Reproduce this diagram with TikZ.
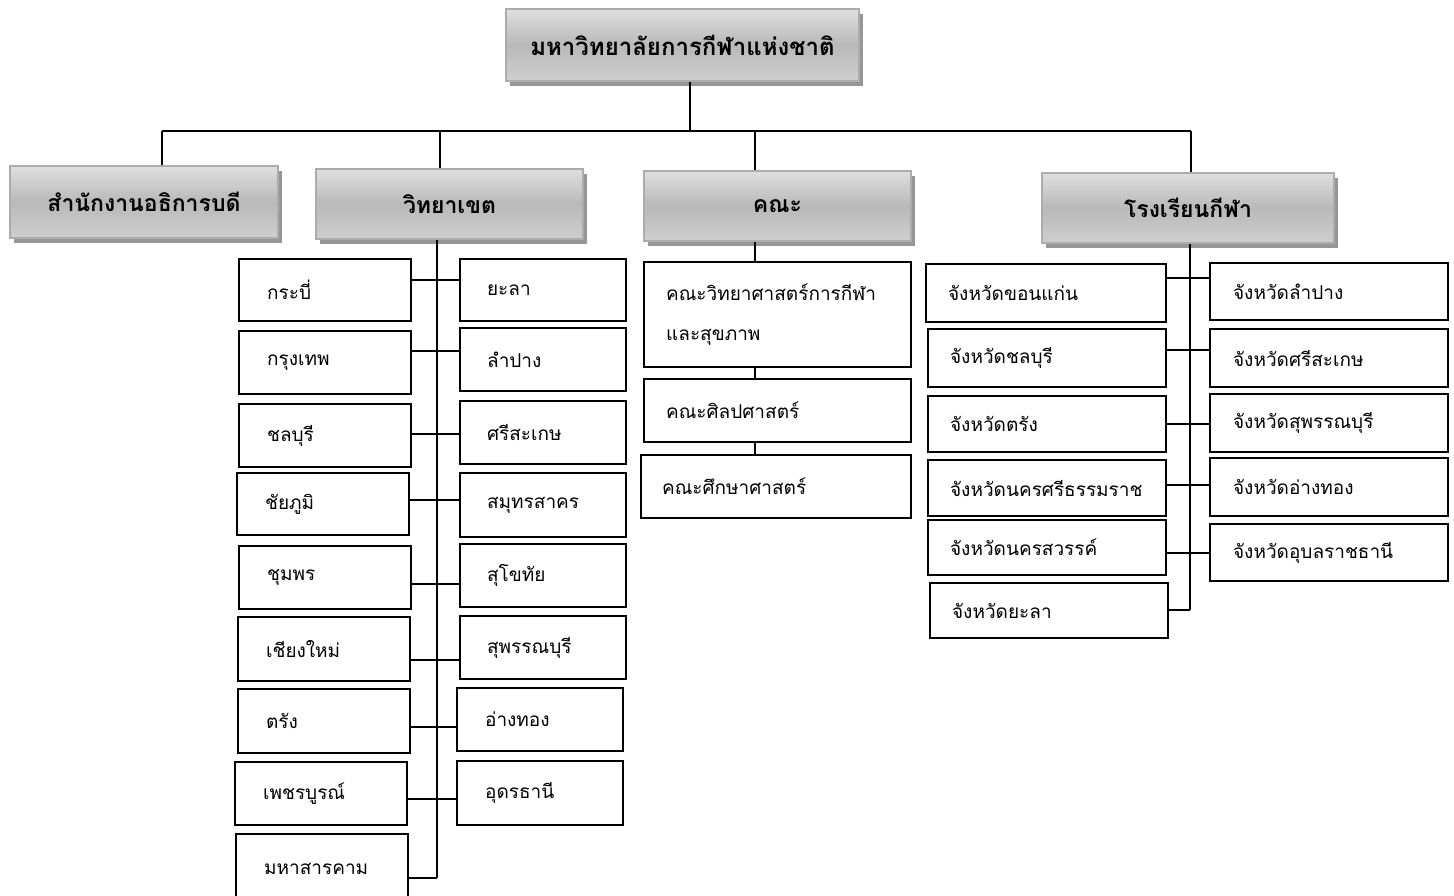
\documentclass[tikz,border=0pt]{standalone}
\usepackage{fontspec}
\setmainfont[Script=Thai]{Loma}
\usetikzlibrary{shadows}
\tikzset{
  headbox/.style={draw=gray!65, line width=2pt, anchor=north west, inner sep=0pt,
    top color=gray!25, bottom color=gray!38, middle color=gray!55,
    drop shadow={shadow xshift=4pt, shadow yshift=-5pt, opacity=0.55, fill=black!75},
    font=\bfseries\fontsize{23}{27}\selectfont},
  leafbox/.style={draw, line width=2.2pt, anchor=north west, align=left, inner ysep=0pt,
    font=\fontsize{19}{40}\selectfont},
  conn/.style={line width=1.8pt}
}
\newcommand\leafnode[7]{%
  \pgfmathsetmacro\leaftw{#4-2*#6}%
  \node[leafbox, inner xsep=#6pt, text width=\leaftw pt, minimum height=#5pt] (#1) at (#2,#3) {#7};}
\begin{document}
\begin{tikzpicture}[x=1pt,y=-1pt]
\useasboundingbox (0,0) rectangle (1454,896);
% headers
\node[headbox, minimum width=353pt, minimum height=72pt, font=\bfseries\fontsize{24}{29}\selectfont] (top) at (505,8) {มหาวิทยาลัยการกีฬาแห่งชาติ};
\node[headbox, minimum width=268pt, minimum height=72pt] (h1) at (9,165) {สำนักงานอธิการบดี};
\node[headbox, minimum width=267pt, minimum height=70pt] (h2) at (315,168) {วิทยาเขต};
\node[headbox, minimum width=267pt, minimum height=70pt] (h3) at (643,170) {คณะ};
\node[headbox, minimum width=292pt, minimum height=70pt] (h4) at (1041,172) {โรงเรียนกีฬา};
% main bus
\coordinate (b0) at (690,131);
\coordinate (b1) at (162,131);
\coordinate (b2) at (440,131);
\coordinate (b3) at (755,131);
\coordinate (b4) at (1191,131);
\draw[conn] (top.south -| b0) -- (b0);
\draw[conn] (b1) -- (b4);
\draw[conn] (b1) -- (b1 |- h1.north);
\draw[conn] (b2) -- (b2 |- h2.north);
\draw[conn] (b3) -- (b3 |- h3.north);
\draw[conn] (b4) -- (b4 |- h4.north);
% campuses
\leafnode{l1}{238}{258}{172}{62}{28}{กระบี่}
\leafnode{l2}{238}{330}{172}{63}{28}{กรุงเทพ}
\leafnode{l3}{238}{403}{172}{63}{28}{ชลบุรี}
\leafnode{l4}{236}{472}{172}{62}{28}{ชัยภูมิ}
\leafnode{l5}{238}{545}{172}{63}{28}{ชุมพร}
\leafnode{l6}{237}{616}{172}{64}{28}{เชียงใหม่}
\leafnode{l7}{237}{688}{172}{64}{28}{ตรัง}
\leafnode{l8}{234}{761}{172}{63}{28}{เพชรบูรณ์}
\leafnode{l9}{235}{833}{172}{70}{28}{มหาสารคาม}
\leafnode{r1}{459}{258}{166}{62}{27}{ยะลา}
\leafnode{r2}{459}{327}{166}{63}{27}{ลำปาง}
\leafnode{r3}{459}{400}{166}{63}{27}{ศรีสะเกษ}
\leafnode{r4}{459}{472}{166}{64}{27}{สมุทรสาคร}
\leafnode{r5}{459}{543}{166}{63}{27}{สุโขทัย}
\leafnode{r6}{459}{615}{166}{63}{27}{สุพรรณบุรี}
\leafnode{r7}{456}{687}{166}{63}{28}{อ่างทอง}
\leafnode{r8}{456}{760}{166}{64}{28}{อุดรธานี}
\coordinate (vb) at (437,878);
\draw[conn] (h2.south -| vb) -- (vb);
\draw[conn] ([yshift=10pt]l1.east) -- ([yshift=10pt]l1.east -| r1.west);
\draw[conn] ([yshift=12pt]l2.east) -- ([yshift=12pt]l2.east -| r2.west);
\draw[conn] ([yshift=2pt]l3.east) -- ([yshift=2pt]l3.east -| r3.west);
\draw[conn] ([yshift=4pt]l4.east) -- ([yshift=4pt]l4.east -| r4.west);
\draw[conn] ([yshift=-6pt]l5.east) -- ([yshift=-6pt]l5.east -| r5.west);
\draw[conn] ([yshift=-11pt]l6.east) -- ([yshift=-11pt]l6.east -| r6.west);
\draw[conn] ([yshift=-6pt]l7.east) -- ([yshift=-6pt]l7.east -| r7.west);
\draw[conn] ([yshift=-5pt]l8.east) -- ([yshift=-5pt]l8.east -| r8.west);
\draw[conn] (l9.east |- vb) -- (vb);
% faculties
\leafnode{f1}{643}{261}{267}{105}{22}{คณะวิทยาศาสตร์การกีฬา\\และสุขภาพ}
\leafnode{f2}{643}{378}{267}{63}{22}{คณะศิลปศาสตร์}
\leafnode{f3}{640}{454}{270}{63}{21}{คณะศึกษาศาสตร์}
\coordinate (fx) at (755,0);
\draw[conn] (h3.south -| fx) -- (f1.north -| fx);
\draw[conn] (f1.south -| fx) -- (f2.north -| fx);
\draw[conn] (f2.south -| fx) -- (f3.north -| fx);
% sports schools
\leafnode{s1}{925}{263}{240}{58}{22}{จังหวัดขอนแก่น}
\leafnode{s2}{927}{328}{238}{58}{22}{จังหวัดชลบุรี}
\leafnode{s3}{927}{395}{238}{56}{22}{จังหวัดตรัง}
\leafnode{s4}{927}{459}{238}{56}{22}{จังหวัดนครศรีธรรมราช}
\leafnode{s5}{927}{519}{238}{55}{22}{จังหวัดนครสวรรค์}
\leafnode{s6}{929}{582}{238}{55}{22}{จังหวัดยะลา}
\leafnode{t1}{1209}{262}{238}{57}{23}{จังหวัดลำปาง}
\leafnode{t2}{1209}{328}{238}{58}{23}{จังหวัดศรีสะเกษ}
\leafnode{t3}{1209}{393}{238}{58}{23}{จังหวัดสุพรรณบุรี}
\leafnode{t4}{1209}{457}{238}{58}{23}{จังหวัดอ่างทอง}
\leafnode{t5}{1209}{523}{238}{57}{23}{จังหวัดอุบลราชธานี}
\coordinate (sb) at (1190,610);
\draw[conn] (h4.south -| sb) -- (sb);
\draw[conn] ([yshift=15pt]s1.east) -- ([yshift=15pt]s1.east -| t1.west);
\draw[conn] ([yshift=8pt]s2.east) -- ([yshift=8pt]s2.east -| t2.west);
\draw[conn] (s3.east) -- (s3.east -| t3.west);
\draw[conn] ([yshift=3pt]s4.east) -- ([yshift=3pt]s4.east -| t4.west);
\draw[conn] ([yshift=-5pt]s5.east) -- ([yshift=-5pt]s5.east -| t5.west);
\draw[conn] (s6.east |- sb) -- (sb);
\end{tikzpicture}
\end{document}
